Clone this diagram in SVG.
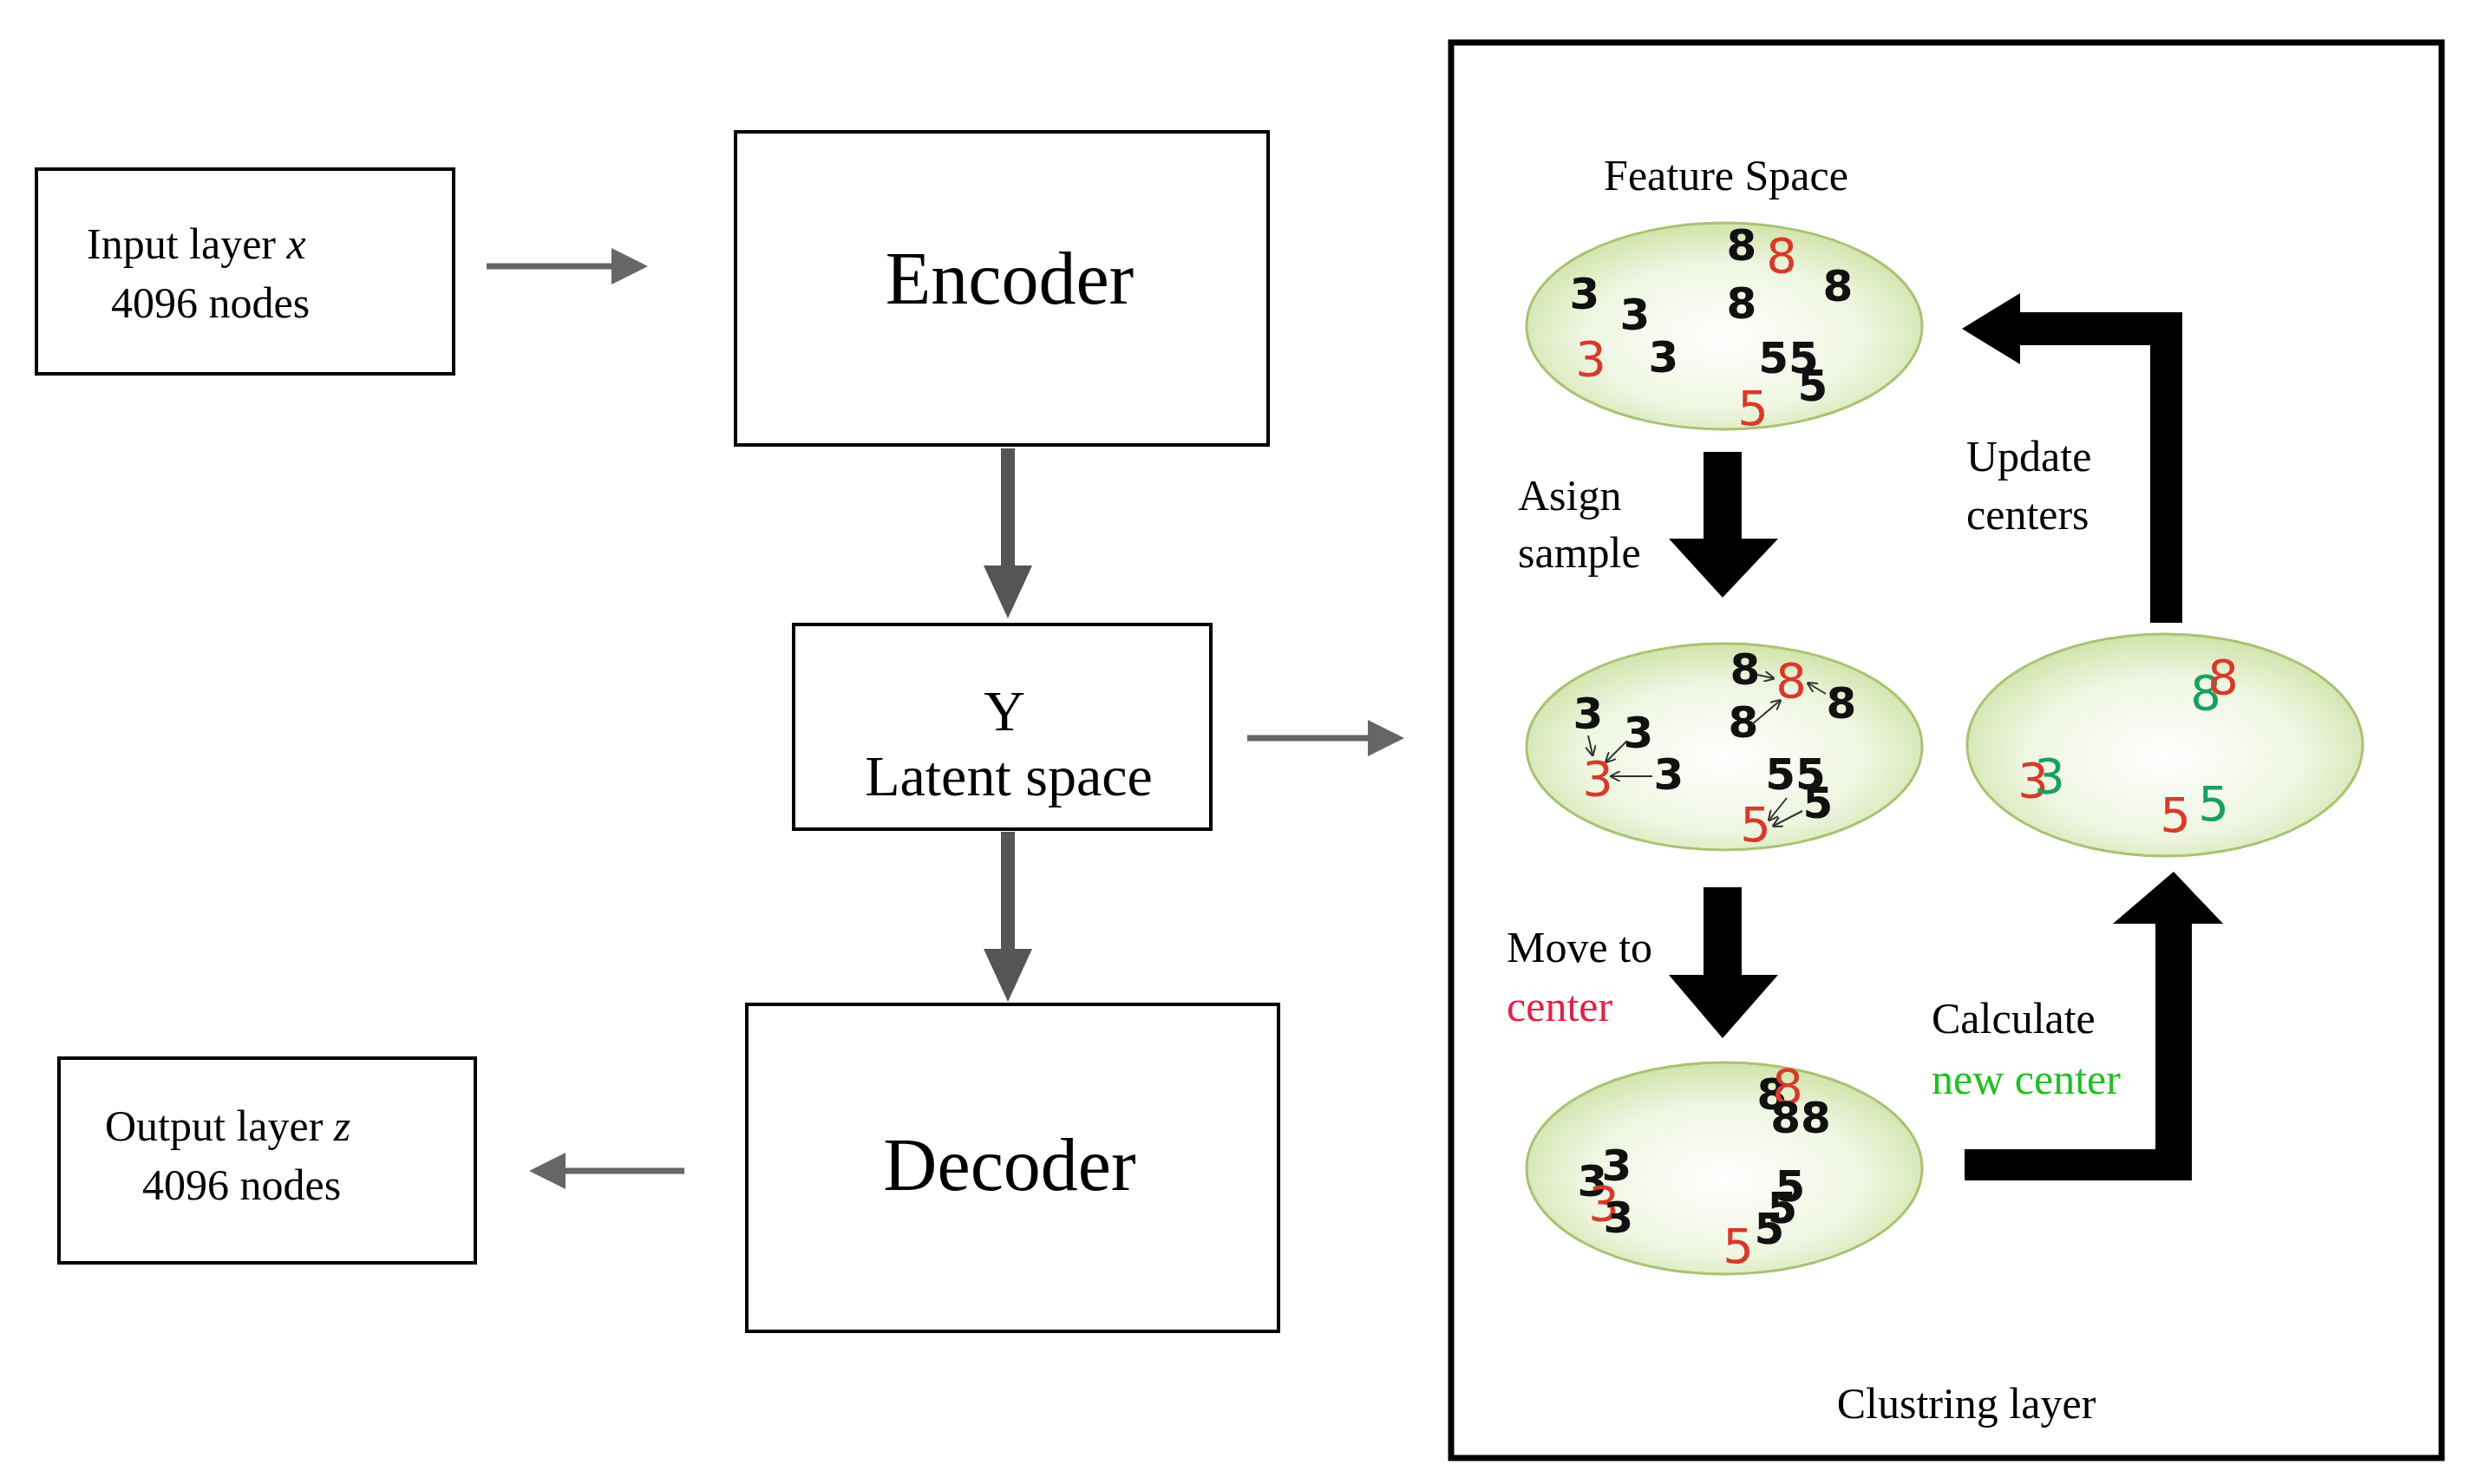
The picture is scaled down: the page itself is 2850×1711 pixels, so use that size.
<svg xmlns="http://www.w3.org/2000/svg" width="2850" height="1711" viewBox="0 0 2850 1711">
<style>
.box{fill:#fff;stroke:#000;stroke-width:4}
.t{font-family:"Liberation Serif",serif;fill:#000}
.s{font-size:50px}
.big{font-size:86px;text-anchor:middle}
.mid{font-size:66px;text-anchor:middle}
.el{fill:url(#g);stroke:#a9c272;stroke-width:3}
.d{font-family:"DejaVu Sans",sans-serif;font-size:50px;font-weight:bold;fill:#111;text-anchor:middle}
.r{fill:#d83a2a;font-weight:normal;font-size:56px}
.gr{fill:#18a060;font-weight:normal;font-size:56px}
.ga{stroke:#666;stroke-width:7;fill:none}
.thin{stroke:#333;stroke-width:2;fill:none;marker-end:url(#sm)}
</style>
<defs>
<radialGradient id="g" cx="0.5" cy="0.55" r="0.6">
<stop offset="0" stop-color="#ffffff"/><stop offset="0.6" stop-color="#eef5e0"/><stop offset="1" stop-color="#c9df9c"/>
</radialGradient>
<marker id="gh" markerWidth="6" markerHeight="6" refX="5" refY="3" orient="auto" markerUnits="strokeWidth"><path d="M0,0 L6,3 L0,6 Z" fill="#666"/></marker>
<marker id="sm" markerWidth="6" markerHeight="6" refX="5" refY="3" orient="auto" markerUnits="strokeWidth"><path d="M0,0 L6,3 L0,6" fill="none" stroke="#333"/></marker>
</defs>
<rect width="2850" height="1711" fill="#fff"/>

<g id="connectors">
<line class="ga" x1="561" y1="307" x2="740" y2="307" marker-end="url(#gh)"/>
<line class="ga" x1="1438" y1="851" x2="1612" y2="851" marker-end="url(#gh)"/>
<line class="ga" x1="789" y1="1350" x2="617" y2="1350" marker-end="url(#gh)"/>
<polygon points="1154,517 1170,517 1170,652 1190,652 1162,713 1134,652 1154,652" fill="#555"/>
<polygon points="1154,959 1170,959 1170,1094 1190,1094 1162,1155 1134,1094 1154,1094" fill="#555"/>
<polygon points="1964,521 2008,521 2008,621 2050,621 1986,689 1924,621 1964,621" fill="#000"/>
<polygon points="1964,1023 2008,1023 2008,1124 2050,1124 1986,1197 1924,1124 1964,1124" fill="#000"/>
<polygon points="2479,718 2516,718 2516,360 2329,360 2329,338 2262,379 2329,420 2329,398 2479,398" fill="#000"/>
<polygon points="2265,1325 2485,1325 2485,1065 2436,1065 2506,1005 2563,1065 2527,1065 2527,1361 2265,1361" fill="#000"/>
</g>

<g id="input"><rect class="box" x="42" y="195" width="481" height="236"/>
<text class="t s" x="100" y="298">Input layer <tspan font-style="italic">x</tspan></text>
<text class="t s" x="128" y="366">4096 nodes</text></g>

<g id="encoder"><rect class="box" x="848" y="152" width="614" height="361"/>
<text class="t big" x="1164" y="350">Encoder</text></g>

<g id="latent"><rect class="box" x="915" y="720" width="481" height="236"/>
<text class="t mid" x="1158" y="842">Y</text>
<text class="t mid" x="1163" y="917">Latent space</text></g>

<g id="decoder"><rect class="box" x="861" y="1158" width="613" height="377"/>
<text class="t big" x="1164" y="1372">Decoder</text></g>

<g id="output"><rect class="box" x="68" y="1220" width="480" height="236"/>
<text class="t s" x="121" y="1315">Output layer <tspan font-style="italic">z</tspan></text>
<text class="t s" x="164" y="1383">4096 nodes</text></g>

<g id="clustering">
<rect x="1673" y="49" width="1142" height="1632" fill="none" stroke="#000" stroke-width="7"/>
<text class="t s" x="1990" y="219" text-anchor="middle">Feature Space</text>
<text class="t s" x="1750" y="588">Asign</text>
<text class="t s" x="1750" y="654">sample</text>
<text class="t s" x="1737" y="1109">Move to</text>
<text class="t s" x="1737" y="1177" style="fill:#e0204a">center</text>
<text class="t s" x="2267" y="543">Update</text>
<text class="t s" x="2267" y="610">centers</text>
<text class="t s" x="2227" y="1191">Calculate</text>
<text class="t s" x="2227" y="1261" style="fill:#20c020">new center</text>
<text class="t s" x="2267" y="1635" text-anchor="middle">Clustring layer</text>

<ellipse class="el" cx="1988" cy="376" rx="228" ry="119"/>
<text class="d" x="2008" y="300" font-size="42">8</text><text class="d r" x="2054" y="314">8</text>
<text class="d" x="2119" y="347" font-size="42">8</text><text class="d" x="1827" y="356">3</text>
<text class="d" x="1885" y="380">3</text><text class="d" x="2008" y="367" font-size="42">8</text>
<text class="d r" x="1834" y="433">3</text><text class="d" x="1918" y="429">3</text>
<text class="d" x="2062" y="430">55</text><text class="d" x="2090" y="462">5</text>
<text class="d r" x="2021" y="490">5</text>

<ellipse class="el" cx="1988" cy="861" rx="228" ry="119"/>
<text class="d" x="2012" y="789" font-size="42">8</text><text class="d r" x="2065" y="804">8</text>
<text class="d" x="2123" y="828" font-size="42">8</text><text class="d" x="2010" y="850" font-size="42">8</text>
<text class="d" x="1831" y="840">3</text><text class="d" x="1889" y="862">3</text>
<text class="d r" x="1842" y="917">3</text><text class="d" x="1924" y="910">3</text>
<text class="d" x="2070" y="910">55</text><text class="d" x="2096" y="943">5</text>
<text class="d r" x="2024" y="970">5</text>
<line class="thin" x1="2026" y1="778" x2="2044" y2="782"/>
<line class="thin" x1="2105" y1="800" x2="2085" y2="788"/>
<line class="thin" x1="2020" y1="835" x2="2052" y2="808"/>
<line class="thin" x1="1831" y1="848" x2="1836" y2="870"/>
<line class="thin" x1="1875" y1="855" x2="1852" y2="878"/>
<line class="thin" x1="1905" y1="895" x2="1858" y2="895"/>
<line class="thin" x1="2060" y1="920" x2="2040" y2="945"/>
<line class="thin" x1="2078" y1="935" x2="2045" y2="952"/>

<ellipse class="el" cx="2496" cy="859" rx="228" ry="128"/>
<text class="d gr" x="2543" y="818">8</text><text class="d r" x="2563" y="800">8</text>
<text class="d r" x="2344" y="919">3</text><text class="d gr" x="2363" y="914">3</text>
<text class="d r" x="2508" y="959">5</text><text class="d gr" x="2552" y="946">5</text>

<ellipse class="el" cx="1988" cy="1347" rx="228" ry="122"/>
<text class="d" x="2043" y="1279" font-size="42">8</text><text class="d r" x="2061" y="1272">8</text>
<text class="d" x="2076" y="1306" font-size="42">88</text>
<text class="d" x="1836" y="1379">3</text><text class="d" x="1864" y="1361">3</text>
<text class="d r" x="1849" y="1407">3</text><text class="d" x="1866" y="1421">3</text>
<text class="d r" x="2004" y="1456">5</text><text class="d" x="2040" y="1434">5</text>
<text class="d" x="2055" y="1410">5</text><text class="d" x="2064" y="1385">5</text>
</g>
</svg>
